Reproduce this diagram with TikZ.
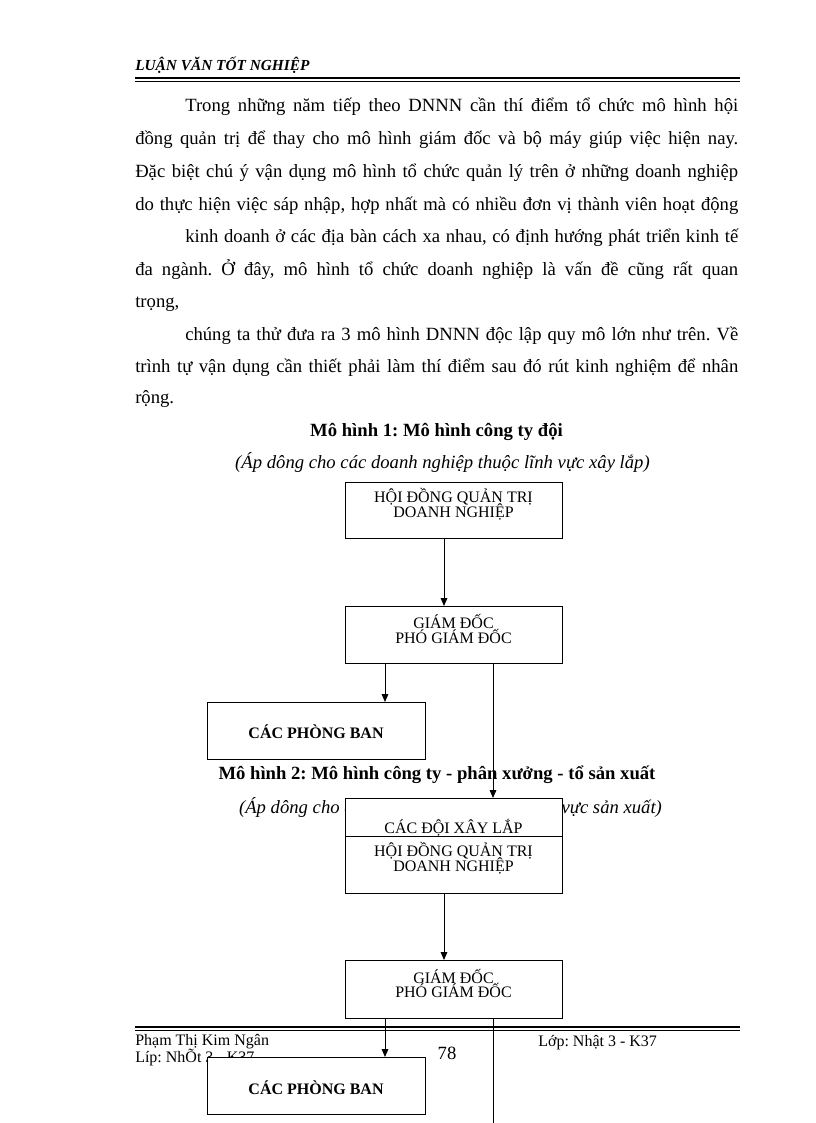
\documentclass[tikz,border=0pt]{standalone}
\usepackage{fontspec}
\setmainfont{Liberation Serif}
\usetikzlibrary{arrows.meta,calc}
\newcommand\mytightlines{\fontsize{12}{11}\selectfont\lineskiplimit=-20pt\lineskip=0pt\relax}
\begin{document}
\frenchspacing
\begin{tikzpicture}[x=0.75pt,y=-0.75pt,
  box/.style={draw,line width=0.75pt,fill=white,minimum width=162.75pt,minimum height=42.75pt,inner sep=0pt,outer sep=0pt},
  wbox/.style={box,minimum width=163.5pt},
  btxt/.style={inner sep=0pt,align=center,font=\mytightlines},
  bbtxt/.style={inner sep=0pt,align=center,font=\fontsize{12}{14}\selectfont\bfseries},
  ptxt/.style={inner sep=0pt,anchor=mid west,font=\fontsize{14}{16}\selectfont},
  ttl/.style={inner sep=0pt,font=\fontsize{14}{16}\selectfont\bfseries},
  sttl/.style={inner sep=0pt,font=\fontsize{14}{16}\selectfont\itshape},
  ftxt/.style={inner sep=0pt,anchor=mid west,font=\fontsize{12}{14}\selectfont},
  arr/.style={line width=0.75pt,-{Triangle[length=6pt,width=5pt]}},
  ln/.style={line width=0.75pt}]
\fill[white] (0,0) rectangle (816,1123);
\useasboundingbox (0,0) rectangle (816,1123);

% header
\node[inner sep=0pt,anchor=base west,font=\fontsize{11.5}{13}\selectfont\bfseries\itshape] (hdr) at (135,71) {LUẬN VĂN TỐT NGHIỆP};
\draw[line width=1.8pt] (135,78) -- (740,78);
\draw[line width=0.75pt] (135,81.5) -- (740,81.5);

% paragraph
\node[ptxt] (p1) at (185,108) {\makebox[414.75pt][s]{Trong những năm tiếp theo DNNN cần thí điểm tổ chức mô hình hội}};
\node[ptxt] (p2) at (135,141) {\makebox[452.25pt][s]{đồng quản trị để thay cho mô hình giám đốc và bộ máy giúp việc hiện nay.}};
\node[ptxt] (p3) at (135,174) {\makebox[452.25pt][s]{Đặc biệt chú ý vận dụng mô hình tổ chức quản lý trên ở những doanh nghiệp}};
\node[ptxt] (p4) at (135,207) {\makebox[452.25pt][s]{do thực hiện việc sáp nhập, hợp nhất mà có nhiều đơn vị thành viên hoạt động}};
\node[ptxt] (p5) at (185,239) {\makebox[414.75pt][s]{kinh doanh ở các địa bàn cách xa nhau, có định hướng phát triển kinh tế}};
\node[ptxt] (p6) at (135,272) {\makebox[452.25pt][s]{đa ngành. Ở đây, mô hình tổ chức doanh nghiệp là vấn đề cũng rất quan}};
\node[ptxt] (p7) at (135,304) {trọng,};
\node[ptxt] (p8) at (185,337) {\makebox[414.75pt][s]{chúng ta thử đưa ra 3 mô hình DNNN độc lập quy mô lớn như trên. Về}};
\node[ptxt] (p9) at (135,369) {\makebox[452.25pt][s]{trình tự vận dụng cần thiết phải làm thí điểm sau đó rút kinh nghiệm để nhân}};
\node[ptxt] (p10) at (135,400) {rộng.};

% titles
\node[ttl] (tt1) at (436.5,432) {Mô hình 1: Mô hình công ty đội};
\node[sttl] (st1) at (442.5,463) {(Áp dông cho các doanh nghiệp thuộc lĩnh vực xây lắp)};
\node[ttl] (tt2) at (437,775) {Mô hình 2: Mô hình công ty - phân xưởng - tổ sản xuất};
\node[sttl] (st2) at (450.5,807) {(Áp dông cho các doanh nghiệp thuộc lĩnh vực sản xuất)};

% footer
\draw[line width=1.6pt] (135,1027) -- (740,1027);
\draw[line width=0.75pt] (135,1030) -- (740,1030);
\node[ftxt] (f1) at (135,1042) {Phạm Thị Kim Ngân};
\node[ftxt] (f2) at (135,1059) {Líp: NhÕt 3 - K37};
\node[inner sep=0pt,font=\fontsize{14}{16}\selectfont] (f3) at (447,1053) {78};
\node[ftxt] (f4) at (538,1043) {Lớp: Nhật 3 - K37};

% boxes model 1
\node[box,minimum height=42pt] (b1) at (453.5,510) {};
\node[btxt] (t1) at ($(b1.north)+(0,22)$) {HỘI ĐỒNG QUẢN TRỊ\\DOANH NGHIỆP};
\node[box] (b2) at (453.5,634.5) {};
\node[btxt] (t2) at ($(b2.north)+(0,23)$) {GIÁM ĐỐC\\PHÓ GIÁM ĐỐC};
\node[wbox] (b3) at (316,730.5) {};
\node[bbtxt] (t3) at (316,732) {CÁC PHÒNG BAN};
\node[box] (b4) at (453.5,826.5) {};
\node[btxt] (t4) at (453.5,828) {CÁC ĐỘI XÂY LẮP};

% boxes model 2
\node[box] (b5) at (453.5,864.5) {};
\node[btxt] (t5) at ($(b5.north)+(0,22)$) {HỘI ĐỒNG QUẢN TRỊ\\DOANH NGHIỆP};
\node[box,minimum height=43.5pt] (b6) at (453.5,989) {};
\node[btxt] (t6) at ($(b6.north)+(0,23.5)$) {GIÁM ĐỐC\\PHÓ GIÁM ĐỐC};
\node[wbox] (b7) at (316,1085.5) {};
\node[bbtxt] (t7) at (316,1088) {CÁC PHÒNG BAN};
\coordinate (e1) at (493,1123);

% connectors
\draw[arr] ($(b1.south)+(-9.5,0)$) -- ($(b2.north)+(-9.5,0)$);
\draw[arr] ($(b2.south)+(-68.5,0)$) -- ($(b3.north)+(69,0)$);
\draw[arr] ($(b2.south)+(39.5,0)$) -- ($(b4.north)+(39.5,0)$);
\draw[arr] ($(b5.south)+(-9.5,0)$) -- ($(b6.north)+(-9.5,0)$);
\draw[arr] ($(b6.south)+(-68.5,0)$) -- ($(b7.north)+(69,0)$);
\draw[ln] ($(b6.south)+(39.5,0)$) -- (e1);
\end{tikzpicture}
\end{document}
